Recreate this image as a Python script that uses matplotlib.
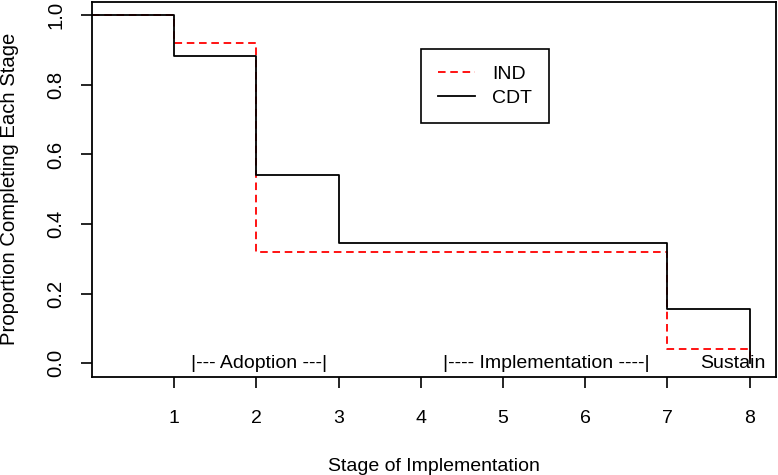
import matplotlib
matplotlib.use("Agg")
import matplotlib.pyplot as plt

plt.rcParams['font.family'] = ['Liberation Sans', 'DejaVu Sans']

stages = [0, 1, 2, 3, 4, 5, 6, 7, 8]
ind = [1.0, 0.92, 0.32, 0.32, 0.32, 0.32, 0.32, 0.04, 0.0]
cdt = [1.0, 0.882, 0.54, 0.345, 0.345, 0.345, 0.345, 0.155, 0.0]
xticks = [1, 2, 3, 4, 5, 6, 7, 8]
yticks = [0.0, 0.2, 0.4, 0.6, 0.8, 1.0]
phase_labels = ["|--- Adoption ---|", "|---- Implementation ----|", "Sustain"]
phase_x = [2.03, 5.53, 7.79]

W, H = 778, 475
fig = plt.figure(figsize=(W / 100, H / 100), dpi=100)
ax = fig.add_axes([92 / W, 1 - 377 / H, (776 - 92) / W, (377 - 1.5) / H])

ax.step(stages, ind, where='post', color='red', lw=1.3, ls=(0, (4.2, 2.6)), label='IND')
ax.step(stages, cdt, where='post', color='black', lw=1.3, label='CDT')

ax.set_xlim(0, 8.32)
ax.set_ylim(-0.04, 1.04)
ax.set_xticks(xticks)
ax.set_xticklabels([str(v) for v in xticks])
ax.set_yticks(yticks)
ax.set_yticklabels([f"{v:.1f}" for v in yticks], rotation=90, va='center')
ax.tick_params(axis='both', length=8, width=1.2, colors='black')
ax.tick_params(axis='x', pad=16, labelsize=14)
ax.tick_params(axis='y', pad=11, labelsize=14.6)
for s in ax.spines.values():
    s.set_linewidth(1.3)
    s.set_color('black')

ax.set_xlabel("Stage of Implementation", fontsize=14, labelpad=22)
ax.set_ylabel("Proportion Completing Each Stage", fontsize=14.6, labelpad=20)

for lab, xp in zip(phase_labels, phase_x):
    ax.text(xp, 0.0, lab, ha='center', va='center', fontsize=14, color='black')

leg = ax.legend(loc='upper left', bbox_to_anchor=(421 / W, 1 - 49 / H), bbox_transform=fig.transFigure,
                fancybox=False, edgecolor='black', framealpha=1, fontsize=14,
                handlelength=1.95, handletextpad=0.85, borderpad=0.85, labelspacing=0.3,
                borderaxespad=0)
leg.get_frame().set_linewidth(1.2)

fig.savefig("out.png", dpi=100)
